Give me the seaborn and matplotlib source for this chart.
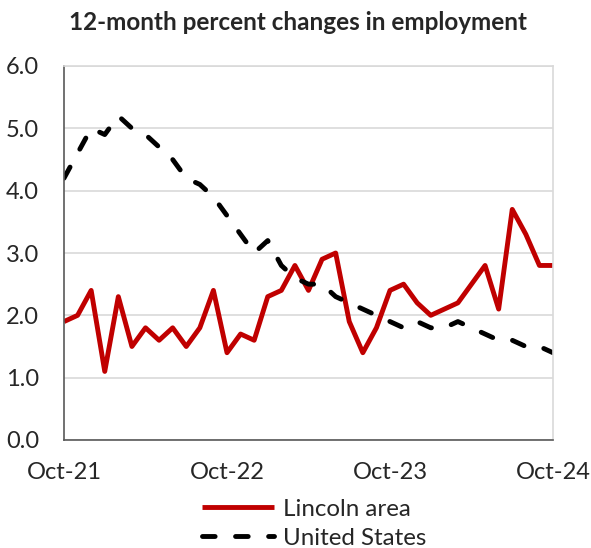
import numpy as np
import pandas as pd
import seaborn as sns
import matplotlib
matplotlib.use("Agg")
import matplotlib.pyplot as plt

months = pd.date_range("2021-10-01", "2024-10-01", freq="MS")
lincoln = [1.9, 2.0, 2.4, 1.1, 2.3, 1.5, 1.8, 1.6, 1.8, 1.5, 1.8, 2.4, 1.4,
           1.7, 1.6, 2.3, 2.4, 2.8, 2.4, 2.9, 3.0, 1.9, 1.4, 1.8, 2.4, 2.5,
           2.2, 2.0, 2.1, 2.2, 2.5, 2.8, 2.1, 3.7, 3.3, 2.8, 2.8]
us = [4.2, 4.6, 5.0, 4.9, 5.2, 5.0, 4.9, 4.7, 4.5, 4.2, 4.1, 3.9, 3.6,
      3.3, 3.0, 3.2, 2.8, 2.6, 2.5, 2.5, 2.3, 2.2, 2.1, 2.0, 1.9, 1.8,
      1.9, 1.8, 1.8, 1.9, 1.8, 1.7, 1.6, 1.6, 1.5, 1.5, 1.4]
series_names = ["Lincoln area", "United States"]
xtick_labels = ["Oct-21", "Oct-22", "Oct-23", "Oct-24"]
ytick_values = [0.0, 1.0, 2.0, 3.0, 4.0, 5.0, 6.0]
title = "12-month percent changes in employment"

idx = np.arange(len(months))
df = pd.DataFrame({
    "m": np.concatenate([idx, idx]),
    "value": lincoln + us,
    "series": [series_names[0]] * len(idx) + [series_names[1]] * len(idx),
})

sns.set_style("white")
plt.rcParams["font.family"] = ["Lato", "DejaVu Sans"]

fig = plt.figure(figsize=(5.91, 5.48), dpi=100)
ax = fig.add_axes([64 / 591, 1 - 440 / 548, (553 - 64) / 591, (440 - 66) / 548])

sns.lineplot(data=df, x="m", y="value", hue="series", style="series",
             palette={series_names[0]: "#C00000", series_names[1]: "black"},
             dashes={series_names[0]: "", series_names[1]: (2.6, 4.2)},
             linewidth=3.5, ax=ax, legend=True)
for ln in ax.get_lines():
    ln.set_dash_capstyle("round")
    ln.set_solid_capstyle("butt")

ax.set_xlim(0, 36)
ax.set_ylim(0, 6)
ax.set_yticks(ytick_values)
ax.set_yticklabels([f"{v:.1f}" for v in ytick_values], fontsize=17)
ax.set_xticks([0, 12, 24, 36])
ax.set_xticklabels(xtick_labels, fontsize=17)
ax.set_xlabel("")
ax.set_ylabel("")
ax.yaxis.grid(True, color="#D9D9D9", linewidth=1.2)
ax.set_axisbelow(True)
for s in ["top", "right"]:
    ax.spines[s].set_color("#D9D9D9")
    ax.spines[s].set_linewidth(1.2)
for s in ["left", "bottom"]:
    ax.spines[s].set_color("#595959")
    ax.spines[s].set_linewidth(1.2)
ax.tick_params(axis="x", direction="inout", length=11, width=1.2, color="#595959", pad=10)
ax.tick_params(axis="y", length=0, pad=18)

fig.text(298 / 591, 1 - 22 / 548, title, ha="center", va="center",
         fontsize=17.5, fontweight="bold")

h, l = ax.get_legend_handles_labels()
for hh in h:
    hh.set_linewidth(3.5)
ax.legend(h, l, loc="upper center", bbox_to_anchor=(314 / 591, 1 - 489 / 548),
          bbox_transform=fig.transFigure, frameon=False, fontsize=17.4,
          handlelength=3.0, labelspacing=0.33, borderaxespad=0, handletextpad=0.35)

fig.savefig("out.png", dpi=100)
